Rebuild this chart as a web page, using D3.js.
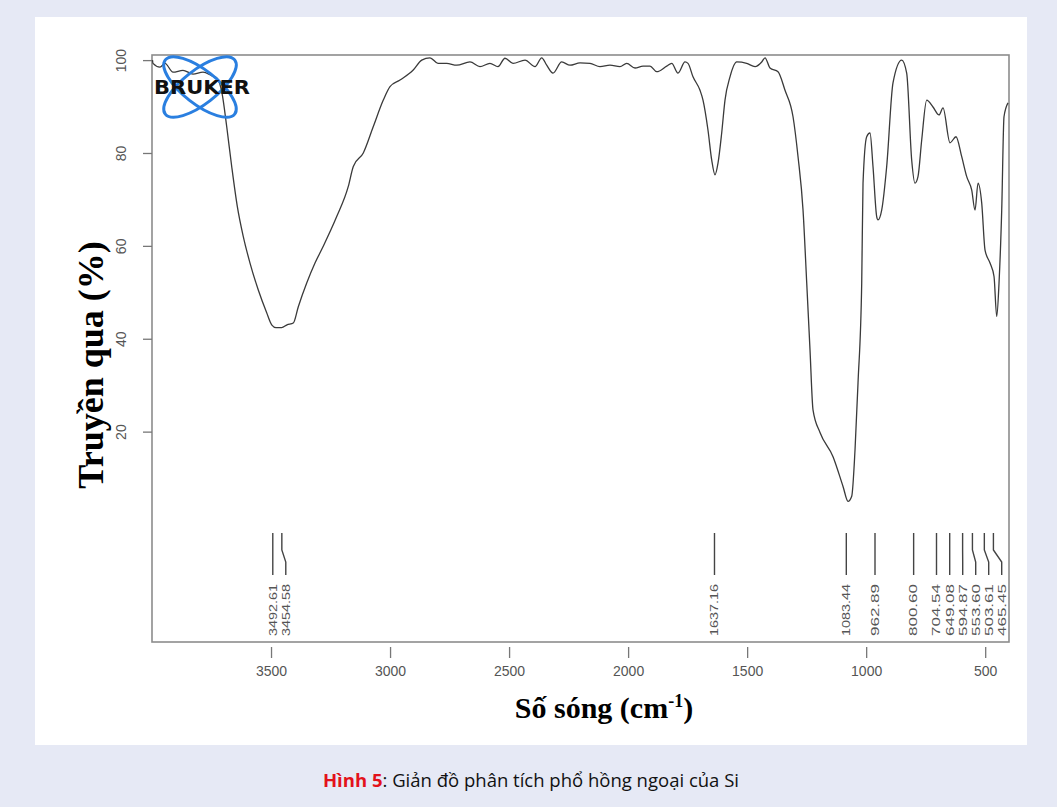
<!DOCTYPE html>
<html>
<head>
<meta charset="utf-8">
<script src="https://cdn.jsdelivr.net/npm/d3@7"></script>
<style>
  body { margin: 0; background: #e6e9f5; }
  svg { display: block; }
</style>
</head>
<body>
<svg width="1057" height="807"></svg>
<script>
// IR spectrum, wavenumber (cm-1) vs transmittance (%)
var wavenumber = [3998, 3995.8, 3966.4, 3945.4, 3911.8, 3869.8, 3827.8, 3785.8, 3747.8, 3726.9,
  3705.9, 3686.2, 3665.2, 3641.7, 3616.5, 3588.3, 3553.5, 3518.2, 3497.2, 3479.1,
  3455.2, 3432.9, 3406.4, 3385.4, 3350.1, 3315.3, 3281.7, 3224.1, 3175.4, 3154.4,
  3112.4, 3070.4, 3028.4, 3000.2, 2958.2, 2903.6, 2867.0, 2832.2, 2798.6, 2762.1,
  2720.0, 2664.2, 2622.2, 2580.2, 2546.6, 2517.2, 2483.5, 2433.1, 2391.1, 2362.9,
  2342.0, 2315.5, 2278.9, 2244.1, 2202.1, 2160.1, 2118.1, 2076.1, 2034.1, 2005.9,
  1971.0, 1937.4, 1908.0, 1879.9, 1837.9, 1816.9, 1790.4, 1761.0, 1748.4, 1727.4,
  1698.0, 1685.4, 1664.4, 1648.9, 1635.0, 1622.4, 1606.9, 1593.0, 1572.0, 1543.9,
  1501.9, 1466.8, 1438.8, 1424.9, 1403.9, 1370.3, 1340.9, 1307.2, 1286.2, 1265.2,
  1249.7, 1235.9, 1223.3, 1193.9, 1139.2, 1097.2, 1076.2, 1060.7, 1046.8, 1034.2,
  1018.7, 1013.2, 997.8, 983.9, 971.3, 955.8, 950.3, 934.8, 913.8, 887.3,
  850.8, 829.8, 808.8, 794.9, 782.3, 766.7, 745.7, 719.3, 694.0, 677.2,
  647.8, 622.6, 598.6, 577.6, 556.6, 542.7, 530.1, 514.6, 500.7, 479.7,
  462.9, 451.6, 441.9, 430.6, 421.0, 404.2];

var transmittance = [100.0, 99.3, 98.5, 99.3, 97.4, 97.8, 97.0, 97.4, 96.6, 96.1,
  92.9, 85.7, 77.1, 68.5, 62.0, 56.3, 50.5, 45.6, 43.0, 42.4,
  42.4, 43.0, 43.4, 46.9, 52.0, 56.3, 59.8, 66.3, 72.8, 77.1,
  80.0, 85.7, 91.4, 94.3, 95.7, 97.8, 100.0, 100.5, 99.3, 99.3,
  98.9, 99.6, 98.6, 99.3, 98.6, 100.4, 99.3, 100.0, 98.6, 100.5,
  98.9, 97.2, 99.6, 98.9, 99.4, 99.3, 98.6, 98.9, 98.6, 99.3,
  98.3, 98.7, 98.7, 97.5, 98.7, 99.3, 97.2, 99.6, 99.3, 96.4,
  93.5, 91.4, 84.9, 78.5, 75.3, 77.8, 84.3, 91.4, 96.4, 99.6,
  99.3, 98.6, 99.6, 100.5, 98.3, 97.5, 93.5, 87.8, 79.2, 67.7,
  52.0, 37.6, 24.7, 19.8, 14.6, 8.2, 5.0, 6.1, 16.1, 30.5,
  52.0, 73.5, 83.5, 84.3, 77.1, 66.3, 65.6, 67.7, 77.1, 95.1,
  100.0, 97.2, 78.5, 73.5, 74.9, 82.8, 91.4, 89.9, 88.2, 89.7,
  82.2, 83.5, 79.2, 74.9, 72.0, 67.7, 73.5, 69.2, 59.1, 56.3,
  53.4, 44.8, 52.0, 67.7, 87.8, 90.8];

var peakLabels = ["3492.61", "3454.58", "1637.16", "1083.44", "962.89", "800.60",
  "704.54", "649.08", "594.87", "553.60", "503.61", "465.45"];

var xTicks = [3500, 3000, 2500, 2000, 1500, 1000, 500];
var yTicks = [20, 40, 60, 80, 100];

var svg = d3.select("svg");

// outer white panel
svg.append("rect")
  .attr("x", 35).attr("y", 17)
  .attr("width", 992).attr("height", 728)
  .attr("fill", "#fff");

var x = d3.scaleLinear().domain([4000, 400]).range([152, 1009]);
var y = d3.scaleLinear().domain([-25.3, 101.1]).range([642, 55]);

// plot box
svg.append("rect")
  .attr("x", 152).attr("y", 55)
  .attr("width", 1009 - 152).attr("height", 642 - 55)
  .attr("fill", "none")
  .attr("stroke", "#8c8c8c")
  .attr("stroke-width", 1.6);

// x axis
var xAxis = d3.axisBottom(x).tickValues(xTicks).tickFormat(d3.format("d"))
  .tickSize(11).tickPadding(8);
var gx = svg.append("g")
  .attr("transform", "translate(0,647)")
  .call(xAxis);
gx.select(".domain").remove();
gx.selectAll("line").attr("stroke", "#777").attr("stroke-width", 1.3);
gx.selectAll("text")
  .attr("fill", "#555")
  .style("font-family", "Arial, 'Liberation Sans', sans-serif")
  .style("font-size", "14px");

// y axis
var yAxis = d3.axisLeft(y).tickValues(yTicks).tickSize(9);
var gy = svg.append("g")
  .attr("transform", "translate(152,0)")
  .call(yAxis);
gy.select(".domain").remove();
gy.selectAll("line").attr("stroke", "#777").attr("stroke-width", 1.3);
gy.selectAll("text")
  .attr("x", 0).attr("dy", "0.35em")
  .attr("transform", "translate(-31,0) rotate(-90)")
  .style("text-anchor", "middle")
  .attr("fill", "#555")
  .style("font-family", "Arial, 'Liberation Sans', sans-serif")
  .style("font-size", "14px");

// spectrum line
var line = d3.line()
  .x(function(d, i) { return x(wavenumber[i]); })
  .y(function(d) { return y(d); })
  .curve(d3.curveMonotoneX);

svg.append("path")
  .datum(transmittance)
  .attr("d", line)
  .attr("fill", "none")
  .attr("stroke", "#3a3a3a")
  .attr("stroke-width", 1.3);

// peak markers, labels pushed apart so they do not overlap
var labelX = [];
peakLabels.forEach(function(p, i) {
  var tx = x(+p);
  var lx = i > 0 ? Math.max(tx, labelX[i - 1] + 13) : tx;
  labelX.push(lx);
});

var peaks = svg.append("g");
peakLabels.forEach(function(p, i) {
  var tx = x(+p), lx = labelX[i];
  peaks.append("path")
    .attr("d", "M" + tx + ",533V550L" + lx + ",562V575")
    .attr("fill", "none")
    .attr("stroke", "#444")
    .attr("stroke-width", 1.4);
  peaks.append("text")
    .attr("transform", "translate(" + lx + ",610) rotate(-90)")
    .attr("dy", "0.35em")
    .attr("text-anchor", "middle")
    .attr("textLength", 52)
    .attr("lengthAdjust", "spacingAndGlyphs")
    .attr("fill", "#555")
    .style("font-family", "Arial, 'Liberation Sans', sans-serif")
    .style("font-size", "11px")
    .text(p);
});

// Bruker logo
var logo = svg.append("g").attr("transform", "translate(200,87)");
[-38, 38].forEach(function(a) {
  logo.append("ellipse")
    .attr("rx", 44).attr("ry", 17)
    .attr("transform", "rotate(" + a + ")")
    .attr("fill", "none")
    .attr("stroke", "#2a7fe0")
    .attr("stroke-width", 3);
});
logo.append("text")
  .attr("x", 2).attr("y", 7)
  .attr("text-anchor", "middle")
  .attr("textLength", 96)
  .attr("lengthAdjust", "spacingAndGlyphs")
  .attr("fill", "#111")
  .style("font-family", "'DejaVu Sans', Arial, sans-serif")
  .style("font-weight", "900")
  .style("font-size", "19px")
  .text("BRUKER");

// axis titles
svg.append("text")
  .attr("transform", "translate(90,365) rotate(-90)")
  .attr("dy", "0.35em")
  .attr("text-anchor", "middle")
  .style("font-family", "'Liberation Serif', 'Times New Roman', serif")
  .style("font-weight", "bold")
  .style("font-size", "36px")
  .text("Truyền qua (%)");

var xt = svg.append("text")
  .attr("x", 604).attr("y", 718)
  .attr("text-anchor", "middle")
  .style("font-family", "'Liberation Serif', 'Times New Roman', serif")
  .style("font-weight", "bold")
  .style("font-size", "30px");
xt.append("tspan").text("Số sóng (cm");
xt.append("tspan").attr("dy", -11).style("font-size", "18px").text("-1");
xt.append("tspan").attr("dy", 11).text(")");

// caption
var cap = svg.append("text")
  .attr("x", 531).attr("y", 787)
  .attr("text-anchor", "middle")
  .style("font-family", "'Open Sans', 'Noto Sans', sans-serif")
  .style("font-size", "18.5px")
  .attr("fill", "#111");
cap.append("tspan").attr("fill", "#e3121b").style("font-weight", "bold").text("Hình 5");
cap.append("tspan").text(": Giản đồ phân tích phổ hồng ngoại của Si");
</script>
</body>
</html>
